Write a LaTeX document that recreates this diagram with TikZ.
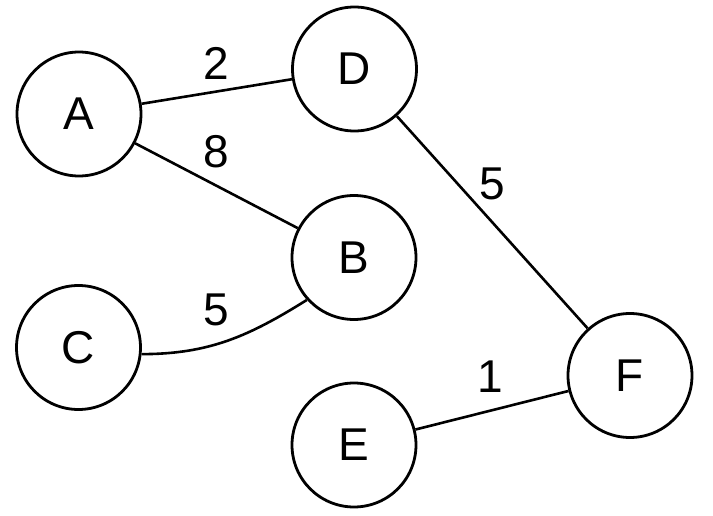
\documentclass[tikz,border=0pt]{standalone}
\usepackage{fontspec}
\setmainfont{Liberation Sans}
\begin{document}
\begin{tikzpicture}[x=1pt,y=-1pt,
  vertex/.style={draw,circle,line width=2.8pt,minimum size=124pt,inner sep=0pt,font=\fontsize{46}{46}\selectfont},
  weight/.style={inner sep=0pt,font=\fontsize{46}{46}\selectfont},
  edge/.style={line width=2.6pt}]
\useasboundingbox (0,0) rectangle (713,516);
\node[vertex] (A) at (79,114) {A};
\node[vertex] (D) at (354.5,69) {D};
\node[vertex] (B) at (354,257.5) {B};
\node[vertex] (C) at (78.5,347.5) {C};
\node[vertex] (E) at (354,445) {E};
\node[vertex] (F) at (630,375.5) {F};
\draw[edge] (A) -- (D);
\draw[edge] (A) -- (B);
\draw[edge] (D) -- (F);
\draw[edge] (E) -- (F);
\draw[edge] (C.-6) to[out=0,in=212] (B.222);
\node[weight] (w1) at (216.5,63.5) {2};
\node[weight] (w2) at (216.5,151.5) {8};
\node[weight] (w3) at (216.5,310) {5};
\node[weight] (w4) at (492,184) {5};
\node[weight] (w5) at (490,377) {1};
\end{tikzpicture}
\end{document}
